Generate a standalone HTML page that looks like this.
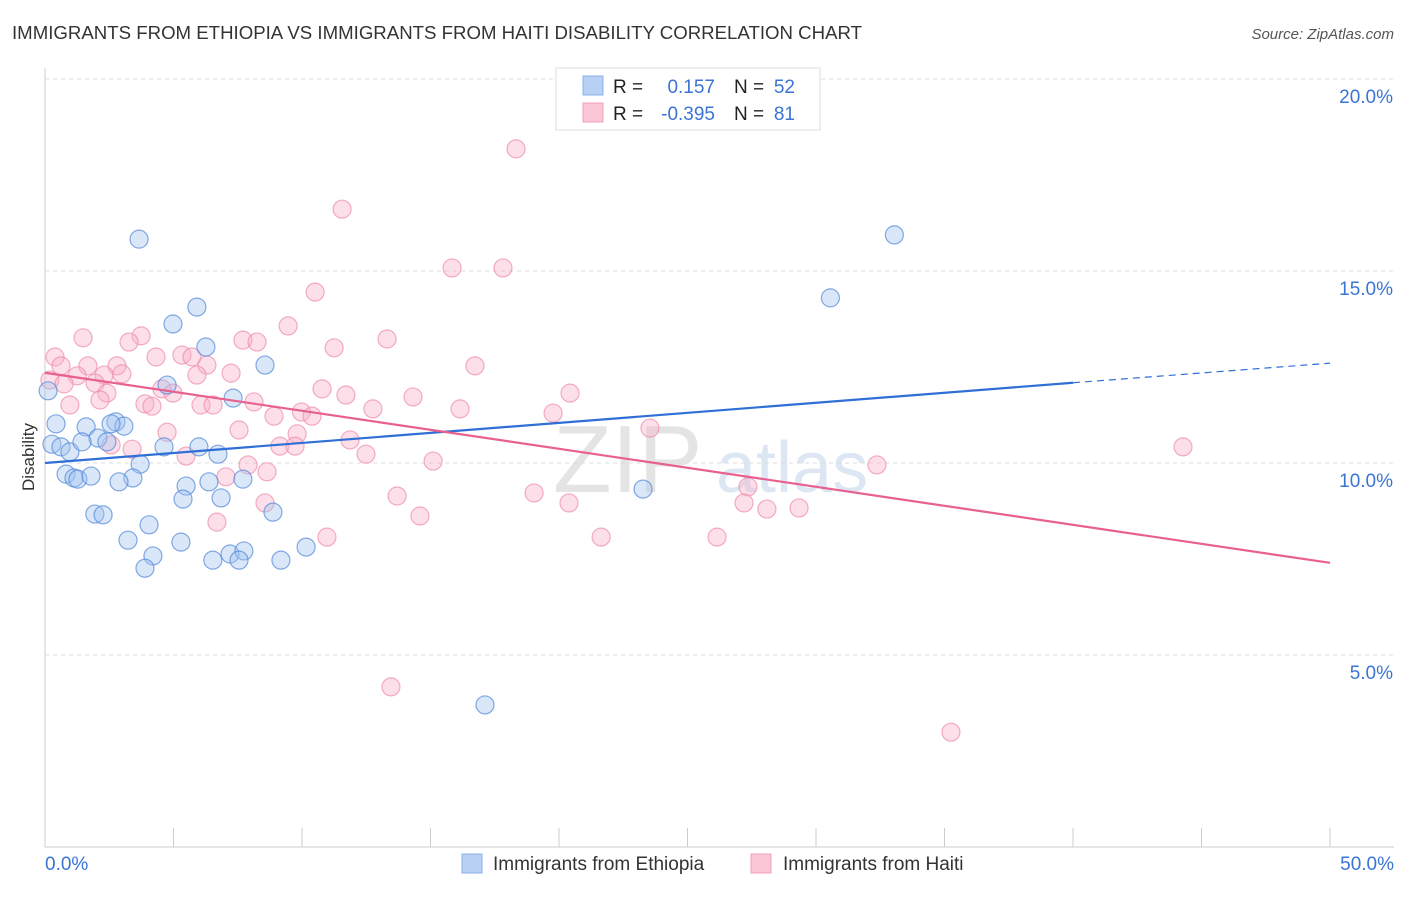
<!DOCTYPE html>
<html><head><meta charset="utf-8"><style>
body{margin:0;background:#fff;font-family:"Liberation Sans",sans-serif;}
svg text{font-family:"Liberation Sans",sans-serif;}
</style></head><body>
<svg id="chart" width="1406" height="892" xmlns="http://www.w3.org/2000/svg">
<text x="12" y="39" font-size="18" fill="#333" textLength="850" lengthAdjust="spacingAndGlyphs">IMMIGRANTS FROM ETHIOPIA VS IMMIGRANTS FROM HAITI DISABILITY CORRELATION CHART</text>
<text x="1394" y="39" font-size="15" fill="#555" font-style="italic" text-anchor="end">Source: ZipAtlas.com</text>
<text x="34" y="457" font-size="17" fill="#333" text-anchor="middle" transform="rotate(-90 34 457)">Disability</text>
<text x="553" y="492" font-size="96" fill="#e4e4e4" font-family="Liberation Serif">ZIP</text>
<text x="716" y="492" font-size="72" fill="#dde6f3">atlas</text>
<g id="grid"></g><g id="pts"></g><g id="trend"></g>
<g>
<rect x="556" y="68" width="264" height="62" fill="#fff" stroke="#ddd"/>
<rect x="583" y="76" width="20" height="19" fill="#b8d0f3" stroke="#8ab0e8"/>
<rect x="583" y="103" width="20" height="19" fill="#fbc6d6" stroke="#f0a0b8"/>
<text x="613" y="93" font-size="19" fill="#222">R =</text><text x="715" y="93" font-size="19" fill="#3b74d4" text-anchor="end">0.157</text>
<text x="734" y="93" font-size="19" fill="#222">N =</text><text x="795" y="93" font-size="19" fill="#3b74d4" text-anchor="end">52</text>
<text x="613" y="120" font-size="19" fill="#222">R =</text><text x="715" y="120" font-size="19" fill="#3b74d4" text-anchor="end">-0.395</text>
<text x="734" y="120" font-size="19" fill="#222">N =</text><text x="795" y="120" font-size="19" fill="#3b74d4" text-anchor="end">81</text>
</g>
<g>
<rect x="462" y="854" width="20" height="19" fill="#b8d0f3" stroke="#8ab0e8"/>
<text x="493" y="870" font-size="19" fill="#333">Immigrants from Ethiopia</text>
<rect x="751" y="854" width="20" height="19" fill="#fbc6d6" stroke="#f0a0b8"/>
<text x="783" y="870" font-size="19" fill="#333">Immigrants from Haiti</text>
</g>
</svg>
<script>
const yTicks=[5,10,15,20];
const yTickLabels=["5.0%","10.0%","15.0%","20.0%"];
const xTickLabels=["0.0%","50.0%"];
const ethX=[3.66,33.05,30.56,5.91,4.98,6.26,8.56,4.75,7.32,0.43,1.60,2.76,3.07,2.57,0.27,0.62,0.97,2.06,2.41,1.44,4.63,5.99,6.73,3.70,0.82,1.13,1.28,1.79,3.42,2.88,5.49,6.38,7.70,23.27,5.37,6.85,1.94,2.26,8.87,4.05,10.16,7.20,3.23,5.29,4.20,7.74,3.89,6.53,7.55,9.18,17.12,0.12];
const ethY=[15.83,15.94,14.30,14.06,13.62,13.02,12.55,12.03,11.69,11.02,10.94,11.07,10.96,11.02,10.49,10.42,10.29,10.65,10.55,10.55,10.42,10.42,10.23,9.97,9.71,9.61,9.58,9.66,9.61,9.51,9.40,9.51,9.58,9.32,9.06,9.09,8.67,8.65,8.72,8.39,7.81,7.63,7.99,7.94,7.58,7.71,7.26,7.47,7.47,7.47,3.70,11.88];
const haiX=[18.33,11.56,15.84,17.82,10.51,1.48,3.74,3.27,7.70,8.25,9.46,11.25,13.31,0.39,0.62,1.67,2.80,4.32,5.33,5.72,6.30,5.91,7.24,16.73,2.30,2.99,1.25,0.19,0.74,1.95,2.41,4.55,4.98,10.78,11.71,14.32,20.43,2.14,3.89,4.16,6.07,6.54,8.13,9.98,10.39,12.76,16.15,19.77,0.97,8.91,4.75,7.55,9.81,11.87,9.14,9.73,2.57,3.39,5.49,12.49,15.10,23.54,32.37,44.28,7.04,7.90,8.64,27.35,13.70,19.03,20.39,8.56,27.20,14.59,28.09,29.34,6.69,10.97,21.64,26.15,13.46,35.25];
const haiY=[18.18,16.61,15.08,15.08,14.45,13.26,13.31,13.15,13.20,13.15,13.57,13.00,13.23,12.76,12.53,12.53,12.53,12.76,12.81,12.76,12.55,12.29,12.34,12.53,12.29,12.32,12.27,12.16,12.06,12.08,11.82,11.93,11.82,11.93,11.77,11.72,11.82,11.64,11.54,11.48,11.51,11.51,11.59,11.33,11.22,11.41,11.41,11.30,11.51,11.22,10.80,10.86,10.76,10.60,10.44,10.44,10.47,10.36,10.18,10.23,10.05,10.91,9.95,10.42,9.64,9.95,9.77,9.38,9.14,9.22,8.96,8.96,8.96,8.62,8.80,8.83,8.46,8.07,8.07,8.07,4.17,2.99];
const ethTrend=[0,10.0,40,12.09,50,12.6];
const haiTrend=[0,12.35,50,7.4];
const X=v=>45+v*1285/50, Y=v=>847-v*38.4;
const NS="http://www.w3.org/2000/svg";
function mk(tag,at,parent){const e=document.createElementNS(NS,tag);for(const k in at)e.setAttribute(k,at[k]);parent.appendChild(e);return e;}
const grid=document.getElementById('grid');
let ax=mk('line',{x1:45,y1:68,x2:45,y2:847,stroke:'#ccc'},grid);


let bx=mk('line',{x1:45,y1:847,x2:1394,y2:847,stroke:'#ccc'},grid);


yTicks.forEach((t,i)=>{
 let g=mk('line',{x1:45,y1:Y(t),x2:1394,y2:Y(t),stroke:'#ddd','stroke-dasharray':'4,4'},grid);
 
 
 let tx=mk('text',{x:1393,y:Y(t)+24,'font-size':19,fill:'#3b74d4','text-anchor':'end'},grid);tx.textContent=yTickLabels[i];
 
 
});
for(let i=0;i<=10;i++){let t=mk('line',{x1:X(i*5),y1:828,x2:X(i*5),y2:847,stroke:'#ccc'},grid);
 
 }
[[0,45,'start'],[50,1394,'end']].forEach((a,i)=>{let t=mk('text',{x:a[1],y:870,'font-size':19,fill:'#3b74d4','text-anchor':a[2]},grid);t.textContent=xTickLabels[i];
 
 });
const pts=document.getElementById('pts');
haiX.forEach((x,i)=>{let c=mk('circle',{cx:X(x),cy:Y(haiY[i]),r:9,fill:'rgba(248,176,200,0.4)',stroke:'rgba(238,140,170,0.7)','stroke-width':1.2},pts);
 
 });
ethX.forEach((x,i)=>{let c=mk('circle',{cx:X(x),cy:Y(ethY[i]),r:9,fill:'rgba(160,195,240,0.4)',stroke:'rgba(80,135,215,0.7)','stroke-width':1.2},pts);
 
 });
const tr=document.getElementById('trend');
let l1=mk('line',{x1:X(ethTrend[0]),y1:Y(ethTrend[1]),x2:X(ethTrend[2]),y2:Y(ethTrend[3]),stroke:'#2f6fd6','stroke-width':2.2},tr);


let l2=mk('line',{x1:X(ethTrend[2]),y1:Y(ethTrend[3]),x2:X(ethTrend[4]),y2:Y(ethTrend[5]),stroke:'#2f6fd6','stroke-width':1.2,'stroke-dasharray':'7,5'},tr);


let l3=mk('line',{x1:X(haiTrend[0]),y1:Y(haiTrend[1]),x2:X(haiTrend[2]),y2:Y(haiTrend[3]),stroke:'#e8608f','stroke-width':2.2},tr);


</script>
</body></html>
